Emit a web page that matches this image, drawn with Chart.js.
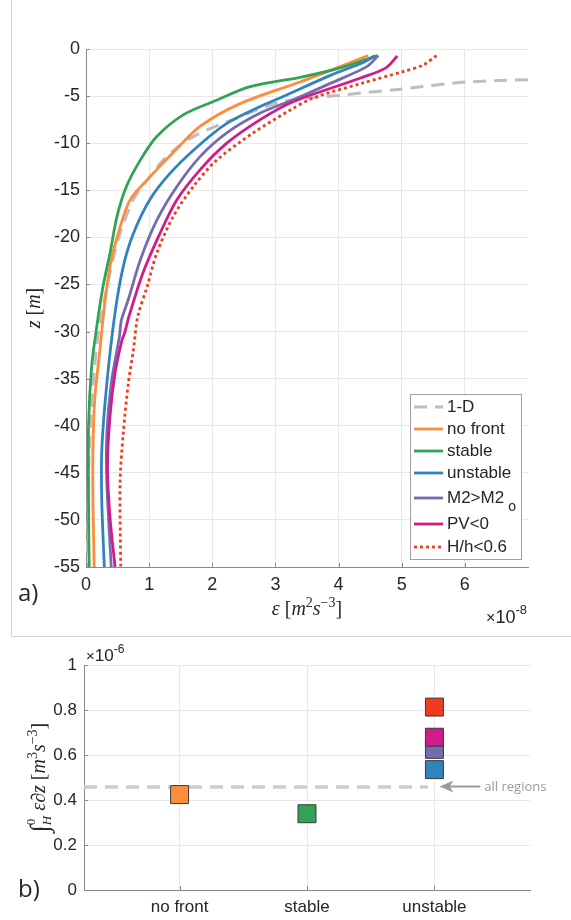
<!DOCTYPE html>
<html>
<head>
<meta charset="utf-8">
<script src="https://cdn.jsdelivr.net/npm/chart.js@4.4.1/dist/chart.umd.min.js"></script>
<style>
  body { margin: 0; background: #fff; width: 571px; height: 920px; overflow: hidden; position: relative; }
  #panelA { position: absolute; left: 0; top: 0; width: 571px; height: 637px; }
  #panelB { position: absolute; left: 0; top: 637px; width: 571px; height: 283px; }
</style>
</head>
<body>
<div id="panelA"><canvas id="profile_Chart" width="571" height="637"></canvas></div>
<div id="panelB"><canvas id="integral_Chart" width="571" height="283"></canvas></div>
<script>
// ---- panel a: dissipation profiles, eps in 1e-8 m^2 s^-3, z in m ----
const seriesLabels = ['1-D', 'no front', 'stable', 'unstable', 'M2>M2_o', 'PV<0', 'H/h<0.6'];
const seriesColors = ['#bebebe', '#fd8d3c', '#31a354', '#3182bd', '#756bb1', '#d01c8b', '#f03b20'];

const z1D   = [-3.1, -3.5, -4.3, -4.9, -5.6, -7.2, -9.3, -11.4, -13.9, -16, -20, -25, -30, -35, -40, -45, -50, -55];
const eps1D = [8.0, 6.04, 4.93, 4.03, 3.1, 2.44, 1.70, 1.28, 0.97, 0.75, 0.52, 0.34, 0.2, 0.12, 0.07, 0.04, 0.03, 0.02];

const zNoFront   = [-0.7, -1.6, -3.5, -5.8, -8.2, -11, -13.6, -16, -19.6, -23.1, -28, -32, -37, -42.6, -48, -55];
const epsNoFront = [4.47, 4.13, 3.39, 2.44, 1.81, 1.38, 1.01, 0.70, 0.51, 0.38, 0.28, 0.22, 0.14, 0.11, 0.11, 0.13];

const zStable   = [-0.7, -2.0, -3.0, -4.0, -5.6, -7.0, -9.3, -11.8, -14.6, -17.8, -21.7, -25.2, -29.5, -33.7, -40, -48, -55];
const epsStable = [4.62, 4.03, 3.39, 2.60, 2.01, 1.54, 1.12, 0.86, 0.64, 0.49, 0.38, 0.27, 0.17, 0.09, 0.04, 0.04, 0.05];

const zUnstable   = [-0.7, -1.4, -2.8, -5.2, -6.1, -7.9, -10.4, -13.2, -16, -19.6, -23.1, -28, -35.5, -42.6, -48, -55];
const epsUnstable = [4.58, 4.4, 3.87, 3.07, 2.76, 2.23, 1.76, 1.33, 1.01, 0.75, 0.59, 0.46, 0.33, 0.25, 0.25, 0.29];

const zM2   = [-0.7, -1.9, -3.65, -5.4, -6.8, -8.9, -11.4, -14.6, -18.2, -22.4, -26.6, -28.8, -30.5, -35.5, -40.8, -46, -55];
const epsM2 = [4.63, 4.44, 3.87, 3.28, 2.76, 2.23, 1.81, 1.44, 1.12, 0.86, 0.67, 0.56, 0.53, 0.40, 0.33, 0.33, 0.40];

const zPV   = [-0.74, -2.0, -3.1, -5.6, -7.5, -10, -12.8, -16, -19.6, -23.8, -28.4, -30.2, -30.9, -34.4, -39, -44.4, -49.7, -55];
const epsPV = [4.93, 4.75, 4.34, 3.28, 2.76, 2.23, 1.81, 1.44, 1.17, 0.90, 0.68, 0.61, 0.57, 0.46, 0.38, 0.34, 0.38, 0.46];

const zHh   = [-0.7, -1.7, -2.4, -3.6, -5.2, -6.5, -8.9, -11.8, -14.6, -17.8, -21.7, -25.2, -28.4, -32, -35.5, -40.8, -46, -55];
const epsHh = [5.55, 5.34, 5.02, 4.39, 3.6, 3.23, 2.65, 2.07, 1.70, 1.38, 1.12, 0.97, 0.82, 0.75, 0.67, 0.59, 0.54, 0.55];

const profileZ   = [z1D, zNoFront, zStable, zUnstable, zM2, zPV, zHh];
const profileEps = [eps1D, epsNoFront, epsStable, epsUnstable, epsM2, epsPV, epsHh];

// ---- panel b: depth integrated dissipation, 1e-6 m^3 s^-3 ----
const groupTicks     = ['no front', 'stable', 'unstable'];
const regionNames    = ['no front', 'stable', 'unstable', 'M2>M2o', 'PV<0', 'H/h<0.6'];
const regionGroup    = [1, 2, 3, 3, 3, 3];
const regionIntegral = [0.424, 0.339, 0.535, 0.625, 0.679, 0.813];
const regionColors   = ['#fd8d3c', '#31a354', '#3182bd', '#756bb1', '#d01c8b', '#f03b20'];
const allRegions = 0.458;
const allRegionsSpan = [0.25, 2.95];
const arrowSpan = [3.04, 3.36];

const SANS = '"Liberation Sans", Arial, Helvetica, sans-serif';
const SERIF = '"Liberation Serif", "DejaVu Serif", serif';
const TXT = '#262626';
const AXIS = '#8a8a8a';
const GRID = '#e8e8e8';

Chart.defaults.font.family = SANS;
Chart.defaults.color = TXT;

// draws a run of text pieces [text, font, dy, stackOnPrevious]
function rich(ctx, parts, x, y, opt) {
    opt = opt || {};
    ctx.save();
    ctx.translate(x, y);
    if (opt.rot) ctx.rotate(opt.rot);
    ctx.fillStyle = opt.color || TXT;
    ctx.textBaseline = 'alphabetic';
    ctx.textAlign = 'left';
    let cx = 0, lastX = 0;
    const pos = [];
    parts.forEach(p => {
        ctx.font = p[1];
        const w = ctx.measureText(p[0]).width;
        const sx = p[3] ? lastX : cx;
        if (!p[3]) lastX = sx;
        pos.push(sx);
        cx = Math.max(cx, sx + w);
    });
    const off = opt.align === 'center' ? -cx / 2 : (opt.align === 'right' ? -cx : 0);
    parts.forEach((p, i) => {
        ctx.font = p[1];
        ctx.fillText(p[0], pos[i] + off, p[2] || 0);
    });
    ctx.restore();
}

function inwardTicks(chart) {
    const ctx = chart.ctx, a = chart.chartArea;
    const xs = chart.scales.x, ys = chart.scales.y;
    ctx.save();
    ctx.strokeStyle = AXIS;
    ctx.lineWidth = 1;
    ctx.beginPath();
    xs.ticks.forEach(t => {
        const px = Math.round(xs.getPixelForValue(t.value)) + 0.5;
        ctx.moveTo(px, a.bottom); ctx.lineTo(px, a.bottom - 4);
    });
    ys.ticks.forEach(t => {
        const py = Math.round(ys.getPixelForValue(t.value)) + 0.5;
        ctx.moveTo(a.left, py); ctx.lineTo(a.left + 4, py);
    });
    ctx.stroke();
    ctx.restore();
}

const legendRows = [13, 35, 57, 79, 104, 130, 153];

const profileDecor = {
    id: 'profileDecor',
    afterDraw(chart) {
        const ctx = chart.ctx, a = chart.chartArea;
        inwardTicks(chart);
        ctx.save();
        // panel frame
        ctx.strokeStyle = '#d2d2d2';
        ctx.lineWidth = 1;
        ctx.beginPath();
        ctx.moveTo(11.5, 0); ctx.lineTo(11.5, 636.5); ctx.lineTo(571, 636.5);
        ctx.stroke();

        // legend
        const bw = 111, bh = 165;
        const bx = Math.round(a.right - 7 - bw), by = Math.round(a.bottom - 8 - bh);
        ctx.fillStyle = '#fff';
        ctx.fillRect(bx, by, bw, bh);
        ctx.strokeStyle = '#a0a0a0';
        ctx.strokeRect(bx + 0.5, by + 0.5, bw, bh);
        chart.data.datasets.forEach((ds, i) => {
            const y = by + legendRows[i];
            ctx.strokeStyle = ds.borderColor;
            ctx.lineWidth = ds.borderWidth;
            ctx.setLineDash(ds.borderDash || []);
            ctx.beginPath(); ctx.moveTo(bx + 4, y); ctx.lineTo(bx + 33, y); ctx.stroke();
            ctx.setLineDash([]);
            const parts = ds.label.split('_');
            ctx.fillStyle = TXT;
            ctx.font = '17px ' + SANS;
            ctx.textBaseline = 'middle';
            ctx.textAlign = 'left';
            ctx.fillText(parts[0], bx + 37, y);
            if (parts[1]) {
                const w = ctx.measureText(parts[0]).width;
                ctx.font = '14px ' + SANS;
                ctx.fillText(parts[1], bx + 37 + w + 4, y + 9);
            }
        });
        ctx.restore();

        const it = 'italic 20px ' + SERIF, rm = '20px ' + SERIF, sup = '14px ' + SERIF;
        rich(ctx, [['\u03b5', it], [' [', rm], ['m', it], ['2', sup, -8], ['s', it], ['\u22123', sup, -8], [']', rm]],
            (a.left + a.right) / 2, 615, { align: 'center' });
        rich(ctx, [['z', it], [' [', rm], ['m', it], [']', rm]],
            40, (a.top + a.bottom) / 2, { align: 'center', rot: -Math.PI / 2 });
        rich(ctx, [['\u00d7', '16px ' + SANS], ['10', '18px ' + SANS], ['-8', '13px ' + SANS, -9]], 527, 623, { align: 'right' });
        rich(ctx, [['a)', '24px "Open Sans", ' + SANS]], 18, 601);
    }
};

const integralDecor = {
    id: 'integralDecor',
    afterDraw(chart) {
        const ctx = chart.ctx, a = chart.chartArea;
        const xs = chart.scales.x, ys = chart.scales.y;
        inwardTicks(chart);

        // arrow pointing at the all-regions line
        const yA = ys.getPixelForValue(allRegions) - 0.5;
        const tip = xs.getPixelForValue(arrowSpan[0]), tail = xs.getPixelForValue(arrowSpan[1]);
        ctx.save();
        ctx.strokeStyle = '#9a9a9a';
        ctx.fillStyle = '#9a9a9a';
        ctx.lineWidth = 2;
        ctx.beginPath(); ctx.moveTo(tail, yA); ctx.lineTo(tip + 8, yA); ctx.stroke();
        ctx.beginPath();
        ctx.moveTo(tip, yA); ctx.lineTo(tip + 14, yA - 6); ctx.lineTo(tip + 10, yA); ctx.lineTo(tip + 14, yA + 6);
        ctx.closePath(); ctx.fill();
        ctx.restore();
        rich(ctx, [['all regions', '13px "Open Sans", ' + SANS]], tail + 4, yA + 4.5, { color: '#9a9a9a' });

        const it = 'italic 20px ' + SERIF, rm = '20px ' + SERIF, sup = '14px ' + SERIF;
        rich(ctx, [['\u222b', '26px ' + SERIF, 3], ['0', '13px ' + SERIF, -10], ['H', 'italic 13px ' + SERIF, 6, true],
                   [' \u03b5\u2202z', it], [' [', rm], ['m', it], ['3', sup, -8], ['s', it], ['\u22123', sup, -8], [']', rm]],
            45, (a.top + a.bottom) / 2, { align: 'center', rot: -Math.PI / 2 });
        rich(ctx, [['\u00d7', '15px ' + SANS], ['10', '17px ' + SANS], ['-6', '12px ' + SANS, -8]], 86, 24);
        rich(ctx, [['b)', '24px "Open Sans", ' + SANS]], 18, 260);
    }
};

const profileSets = seriesLabels.map((lab, i) => ({
    label: lab,
    data: profileZ[i].map((z, k) => ({ x: profileEps[i][k], y: z })),
    borderColor: seriesColors[i],
    borderWidth: i === 0 ? 3 : 2.8,
    borderDash: i === 0 ? [13, 8] : (i === 6 ? [3, 3] : undefined),
    pointRadius: 0,
    tension: 0.3,
    order: seriesLabels.length - i
}));

new Chart(document.getElementById('profile_Chart'), {
    type: 'line',
    data: { datasets: profileSets },
    options: {
        responsive: false,
        animation: false,
        layout: { padding: { left: 0, top: 49, right: 43, bottom: 0 } },
        plugins: { legend: { display: false }, tooltip: { enabled: false } },
        scales: {
            x: {
                type: 'linear', min: 0, max: 7,
                ticks: { stepSize: 1, padding: 7, maxRotation: 0, font: { size: 18 }, color: TXT },
                afterBuildTicks: s => { s.ticks = s.ticks.filter(t => t.value <= 6); },
                afterFit: s => { s.height = 70; },
                grid: { color: GRID, drawTicks: false },
                border: { color: AXIS }
            },
            y: {
                type: 'linear', min: -55, max: 0,
                ticks: { stepSize: 5, padding: 6, font: { size: 18 }, color: TXT },
                afterFit: s => { s.width = 86; },
                grid: { color: GRID, drawTicks: false },
                border: { color: AXIS }
            }
        }
    },
    plugins: [profileDecor]
});

new Chart(document.getElementById('integral_Chart'), {
    type: 'scatter',
    data: {
        datasets: [
            {
                label: 'regions',
                data: regionIntegral.map((v, i) => ({ x: regionGroup[i], y: v })),
                pointStyle: 'rect',
                pointRadius: 12.7,
                backgroundColor: regionColors,
                borderColor: '#3a3a3a',
                borderWidth: 1,
                clip: false
            },
            {
                type: 'line',
                label: 'all regions',
                data: allRegionsSpan.map(x => ({ x: x, y: allRegions })),
                borderColor: '#cccccc',
                borderWidth: 3.5,
                borderDash: [13, 8],
                pointRadius: 0
            }
        ]
    },
    options: {
        responsive: false,
        animation: false,
        layout: { padding: { left: 0, top: 28, right: 41, bottom: 0 } },
        plugins: { legend: { display: false }, tooltip: { enabled: false } },
        scales: {
            x: {
                type: 'linear', min: 0.25, max: 3.75,
                afterBuildTicks: s => { s.ticks = [1, 2, 3].map(v => ({ value: v })); },
                ticks: { padding: 7, maxRotation: 0, autoSkip: false, font: { size: 17 }, color: TXT,
                         callback: v => groupTicks[v - 1] },
                afterFit: s => { s.height = 30; },
                grid: { color: GRID, drawTicks: false },
                border: { color: AXIS }
            },
            y: {
                type: 'linear', min: 0, max: 1,
                ticks: { stepSize: 0.2, padding: 7, font: { size: 17 }, color: TXT,
                         callback: v => String(+v.toFixed(1)) },
                afterFit: s => { s.width = 84; },
                grid: { color: GRID, drawTicks: false },
                border: { color: AXIS }
            }
        }
    },
    plugins: [integralDecor]
});
</script>
</body>
</html>
